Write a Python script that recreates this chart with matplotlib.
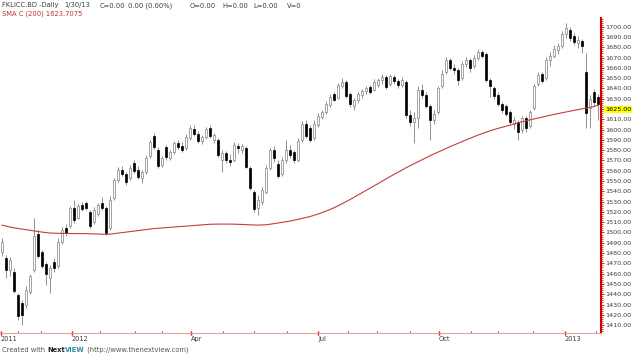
import matplotlib
matplotlib.use("Agg")
import matplotlib.pyplot as plt
import matplotlib.transforms as mtransforms
from matplotlib.ticker import MultipleLocator, FuncFormatter

# daily candles, oldest first
opens = [
    1481.0, 1475.2, 1463.5, 1461.6, 1439.2, 1431.4, 1429.5, 1442.1, 1463.5, 1498.5,
    1481.0, 1469.3, 1455.7, 1471.3, 1467.4, 1490.7, 1504.3, 1506.3, 1523.8, 1514.1,
    1526.7, 1528.6, 1519.9, 1510.2, 1518.0, 1528.6, 1523.8, 1504.3, 1533.5, 1551.0,
    1560.7, 1556.8, 1553.0, 1567.5, 1560.7, 1553.0, 1558.8, 1574.3, 1593.8, 1580.2,
    1565.6, 1583.1, 1572.4, 1578.2, 1587.0, 1584.1, 1582.1, 1591.8, 1600.6, 1595.7,
    1588.9, 1592.8, 1601.6, 1589.9, 1589.9, 1570.4, 1577.3, 1570.4, 1570.4, 1584.1,
    1580.2, 1582.1, 1562.7, 1539.3, 1523.8, 1529.6, 1539.3, 1562.7, 1580.2, 1566.6,
    1556.8, 1570.4, 1580.2, 1578.2, 1570.4, 1589.9, 1605.4, 1601.6, 1591.8, 1604.5,
    1612.3, 1617.1, 1623.9, 1634.6, 1630.7, 1642.4, 1646.3, 1634.6, 1623.0, 1628.8,
    1633.6, 1637.5, 1641.4, 1638.5, 1643.4, 1648.2, 1651.1, 1644.3, 1651.1, 1647.3,
    1643.4, 1646.3, 1614.2, 1607.4, 1611.3, 1638.5, 1633.6, 1623.0, 1609.3, 1617.1,
    1642.4, 1656.0, 1667.7, 1659.9, 1658.0, 1650.2, 1663.8, 1667.7, 1661.8, 1669.6,
    1675.4, 1673.5, 1648.2, 1640.4, 1633.6, 1624.9, 1623.0, 1617.1, 1605.4, 1607.4,
    1599.6, 1611.3, 1603.5, 1621.0, 1644.3, 1654.1, 1650.2, 1667.7, 1671.6, 1677.4,
    1681.3, 1693.0, 1696.8, 1691.0, 1684.2, 1686.1, 1656.0, 1621.0, 1636.6, 1631.7,
]
closes = [
    1490.7, 1463.5, 1473.2, 1443.1, 1418.8, 1419.8, 1444.1, 1457.7, 1496.6, 1477.1,
    1467.4, 1459.6, 1465.4, 1465.4, 1490.7, 1502.4, 1499.5, 1523.8, 1512.1, 1525.7,
    1522.8, 1523.8, 1506.3, 1521.8, 1526.7, 1523.8, 1499.5, 1531.6, 1551.0, 1560.7,
    1556.8, 1549.1, 1562.7, 1559.8, 1553.9, 1558.8, 1572.4, 1588.0, 1583.1, 1564.6,
    1572.4, 1573.4, 1578.2, 1587.0, 1583.1, 1580.2, 1592.8, 1601.6, 1595.7, 1588.9,
    1592.8, 1600.6, 1593.8, 1594.8, 1575.3, 1577.3, 1570.4, 1568.5, 1585.0, 1582.1,
    1584.1, 1563.6, 1543.2, 1522.8, 1531.6, 1541.3, 1562.7, 1580.2, 1572.4, 1554.9,
    1570.4, 1580.2, 1575.3, 1570.4, 1588.9, 1605.4, 1593.8, 1589.9, 1605.4, 1613.2,
    1617.1, 1624.9, 1631.7, 1628.8, 1643.4, 1646.3, 1632.7, 1624.9, 1628.8, 1634.6,
    1637.5, 1640.4, 1636.6, 1646.3, 1648.2, 1651.1, 1641.4, 1652.1, 1647.3, 1643.4,
    1648.2, 1614.2, 1607.4, 1611.3, 1638.5, 1633.6, 1623.0, 1609.3, 1615.2, 1640.4,
    1654.1, 1667.7, 1659.9, 1658.0, 1648.2, 1663.8, 1667.7, 1659.9, 1669.6, 1675.4,
    1671.6, 1648.2, 1642.4, 1632.7, 1624.9, 1619.1, 1615.2, 1607.4, 1609.3, 1597.7,
    1611.3, 1601.6, 1617.1, 1642.4, 1653.1, 1647.3, 1667.7, 1671.6, 1678.4, 1681.3,
    1693.0, 1698.8, 1689.1, 1685.2, 1687.1, 1681.3, 1616.1, 1629.8, 1626.8, 1624.9,
]
highs = [
    1494.6, 1478.1, 1476.1, 1465.4, 1441.2, 1434.3, 1448.0, 1459.6, 1514.1, 1502.4,
    1483.0, 1471.3, 1468.4, 1475.2, 1494.6, 1505.3, 1508.2, 1525.7, 1531.6, 1527.7,
    1529.6, 1530.6, 1521.8, 1524.8, 1528.6, 1534.5, 1525.7, 1535.4, 1553.0, 1563.6,
    1564.6, 1558.8, 1565.6, 1570.4, 1564.6, 1560.7, 1575.3, 1589.9, 1596.7, 1583.1,
    1574.3, 1585.0, 1580.2, 1588.9, 1589.9, 1588.0, 1595.7, 1604.5, 1604.5, 1598.6,
    1594.8, 1602.5, 1604.5, 1596.7, 1591.8, 1580.2, 1579.2, 1576.3, 1588.0, 1587.0,
    1586.0, 1584.1, 1564.6, 1541.3, 1536.4, 1544.2, 1565.6, 1582.1, 1584.1, 1570.4,
    1573.4, 1589.9, 1585.0, 1580.2, 1591.8, 1608.4, 1609.3, 1604.5, 1609.3, 1616.1,
    1619.1, 1627.8, 1634.6, 1636.6, 1645.3, 1650.2, 1648.2, 1636.6, 1630.7, 1636.6,
    1639.5, 1642.4, 1643.4, 1649.2, 1650.2, 1654.1, 1653.1, 1654.1, 1653.1, 1649.2,
    1651.1, 1648.2, 1619.1, 1617.1, 1642.4, 1644.3, 1636.6, 1624.9, 1619.1, 1642.4,
    1658.0, 1670.6, 1669.6, 1663.8, 1659.9, 1666.7, 1670.6, 1669.6, 1672.5, 1678.4,
    1677.4, 1675.4, 1650.2, 1642.4, 1636.6, 1626.8, 1624.9, 1619.1, 1612.3, 1609.3,
    1613.2, 1613.2, 1619.1, 1644.3, 1656.0, 1656.0, 1670.6, 1675.4, 1682.3, 1684.2,
    1695.9, 1703.6, 1699.8, 1693.9, 1691.0, 1688.1, 1674.5, 1633.6, 1639.5, 1634.6,
]
lows = [
    1477.1, 1455.7, 1457.7, 1441.2, 1414.9, 1410.0, 1426.6, 1440.2, 1461.6, 1475.2,
    1465.4, 1448.9, 1441.2, 1461.6, 1465.4, 1488.8, 1496.6, 1504.3, 1509.2, 1513.1,
    1520.9, 1521.8, 1504.3, 1508.2, 1516.0, 1521.8, 1497.5, 1502.4, 1531.6, 1549.1,
    1554.9, 1546.1, 1551.0, 1557.8, 1552.0, 1548.1, 1556.8, 1572.4, 1581.1, 1562.7,
    1563.6, 1570.4, 1570.4, 1576.3, 1581.1, 1578.2, 1580.2, 1589.9, 1593.8, 1587.0,
    1586.0, 1590.9, 1591.8, 1587.0, 1573.4, 1558.8, 1567.5, 1564.6, 1568.5, 1577.3,
    1577.3, 1562.7, 1541.3, 1519.9, 1517.0, 1526.7, 1537.4, 1560.7, 1568.5, 1553.0,
    1554.9, 1567.5, 1572.4, 1567.5, 1568.5, 1588.0, 1591.8, 1588.0, 1589.9, 1602.5,
    1610.3, 1615.2, 1622.0, 1627.8, 1629.8, 1640.4, 1630.7, 1622.0, 1619.1, 1625.9,
    1630.7, 1634.6, 1634.6, 1637.5, 1641.4, 1644.3, 1639.5, 1642.4, 1644.3, 1640.4,
    1641.4, 1611.3, 1603.5, 1587.0, 1601.6, 1630.7, 1621.0, 1589.9, 1605.4, 1615.2,
    1640.4, 1654.1, 1658.0, 1654.1, 1643.4, 1648.2, 1660.9, 1656.0, 1659.9, 1667.7,
    1669.6, 1646.3, 1631.7, 1629.8, 1623.0, 1616.1, 1613.2, 1605.4, 1600.6, 1589.9,
    1596.7, 1597.7, 1601.6, 1619.1, 1642.4, 1645.3, 1648.2, 1661.8, 1669.6, 1673.5,
    1679.3, 1689.1, 1686.1, 1682.3, 1679.3, 1674.5, 1601.6, 1601.6, 1623.0, 1609.3,
]
# 200-day simple moving average of the close
sma200 = [
    1507.1, 1506.3, 1505.3, 1504.5, 1503.9, 1503.2, 1502.6, 1502.1, 1501.4, 1500.8,
    1500.4, 1499.9, 1499.5, 1499.3, 1499.2, 1499.1, 1499.0, 1499.0, 1499.0, 1499.0,
    1499.0, 1498.9, 1498.8, 1498.7, 1498.5, 1498.3, 1498.2, 1498.4, 1498.9, 1499.5,
    1500.0, 1500.5, 1500.9, 1501.4, 1501.9, 1502.4, 1502.9, 1503.4, 1503.8, 1504.1,
    1504.4, 1504.7, 1505.0, 1505.3, 1505.6, 1505.9, 1506.2, 1506.5, 1506.8, 1507.2,
    1507.5, 1507.8, 1508.0, 1508.1, 1508.2, 1508.2, 1508.2, 1508.2, 1508.1, 1508.0,
    1507.8, 1507.6, 1507.4, 1507.3, 1507.2, 1507.3, 1507.5, 1508.0, 1508.6, 1509.2,
    1509.9, 1510.5, 1511.1, 1511.9, 1512.8, 1513.7, 1514.5, 1515.5, 1516.7, 1517.9,
    1519.3, 1520.8, 1522.3, 1524.1, 1525.9, 1527.9, 1529.9, 1532.0, 1534.2, 1536.3,
    1538.6, 1540.8, 1543.0, 1545.3, 1547.5, 1549.8, 1552.1, 1554.3, 1556.4, 1558.6,
    1560.7, 1562.9, 1564.9, 1566.9, 1568.8, 1570.7, 1572.7, 1574.6, 1576.4, 1578.1,
    1579.9, 1581.6, 1583.4, 1585.0, 1586.7, 1588.3, 1590.0, 1591.5, 1593.1, 1594.7,
    1596.1, 1597.6, 1598.9, 1600.1, 1601.2, 1602.2, 1603.3, 1604.4, 1605.4, 1606.5,
    1607.6, 1608.6, 1609.5, 1610.4, 1611.3, 1612.2, 1613.0, 1613.9, 1614.8, 1615.6,
    1616.3, 1617.1, 1617.9, 1618.7, 1619.4, 1620.2, 1621.0, 1621.7, 1622.4, 1623.7,
]

date_labels = ["2011", "2012", "Apr", "Jul", "Oct", "2013"]
date_index = [-0.3, 17.5, 47.25, 79.0, 109.25, 140.75]
minor_index = [4, 9.75, 24.5, 33.25, 40, 55.25, 63, 71.25, 86.5, 93.75, 102,
               117.25, 124, 132.75, 148.5]

header_parts = ["FKLICC.BD -Daily", "1/30/13", "C=0.00", "0.00 (0.00%)",
                "O=0.00", "H=0.00", "L=0.00", "V=0"]
header_x = [2, 64, 100, 128, 190, 222, 253, 287]
sma_label = "SMA C (200) 1623.7075"
last_label = "1625.00"

W, H = 640, 357
RED = "#d40000"
TXT = "#3c3c3c"

fig = plt.figure(figsize=(W / 100, H / 100), dpi=100)
ax = fig.add_axes([0, 24 / H, 601 / W, 315 / H])
ax.set_xlim(-0.5, 149.75)
ax.set_ylim(1402.3, 1708.5)

idx = list(range(len(closes)))
up = [c >= o for o, c in zip(opens, closes)]
bottoms = [min(o, c) for o, c in zip(opens, closes)]
heights = [max(abs(c - o), 0.5) for o, c in zip(opens, closes)]

ax.vlines(idx, lows, highs, color="#808080", lw=0.6, zorder=1)
ax.bar(idx, heights, bottom=bottoms, width=0.6,
       color=["white" if u else "black" for u in up],
       edgecolor=["#808080" if u else "black" for u in up],
       linewidth=0.5, zorder=2)
ax.plot(idx, sma200, color="#c43c3c", lw=0.8, zorder=3)

for s in ("left", "top"):
    ax.spines[s].set_visible(False)
ax.spines["right"].set_color(RED)
ax.spines["right"].set_linewidth(1.5)
ax.spines["bottom"].set_color("#e6a3a3")
ax.spines["bottom"].set_linewidth(0.8)

ax.yaxis.tick_right()
ax.yaxis.set_major_locator(MultipleLocator(10))
ax.yaxis.set_minor_locator(MultipleLocator(2))
ax.yaxis.set_major_formatter(FuncFormatter(lambda v, p: "" if abs(v - 1620) < 0.1 else f"{v:.2f}"))
ax.tick_params(axis="y", which="major", length=2, width=0.6, color=RED,
               labelsize=4.6, labelcolor=TXT, pad=0.8)
ax.tick_params(axis="y", which="minor", length=1.2, width=0.5, color=RED)

ax.set_xticks(date_index, date_labels)
ax.set_xticks(minor_index, minor=True)
for lab in ax.get_xticklabels():
    lab.set_horizontalalignment("left")
ax.tick_params(axis="x", which="major", direction="inout", length=3, width=1,
               color=RED, labelsize=4.8, labelcolor=TXT, pad=1)
ax.tick_params(axis="x", which="minor", direction="in", length=1.5, width=0.8,
               color="#666666")

trans = mtransforms.blended_transform_factory(ax.transAxes, ax.transData)
ax.annotate(last_label, xy=(1, 1620), xycoords=trans, xytext=(2.8, 0),
            textcoords="offset points", ha="left", va="center", fontsize=4.6,
            color="black", annotation_clip=False, zorder=10,
            bbox=dict(boxstyle="square,pad=0.15", fc="#ffff00", ec="none"))

for s, x in zip(header_parts, header_x):
    fig.text(x / W, 1 - 5.5 / H, s, ha="left", va="center", fontsize=4.9, color=TXT)
fig.text(2 / W, 1 - 14 / H, sma_label, ha="left", va="center", fontsize=4.9, color="#c03030")

# footer, drawn piece by piece so the bold brand sits inline
footer = [("Created with ", "normal", "#555555"), ("Next", "bold", "#222222"),
          ("VIEW", "bold", "#2a8c9c"), (" (http://www.thenextview.com)", "normal", "#555555")]
fig.canvas.draw()
r = fig.canvas.get_renderer()
x = 2
for s, weight, color in footer:
    t = fig.text(x / W, 1 - 350 / H, s, ha="left", va="center", fontsize=4.9,
                 fontweight=weight, color=color)
    x = t.get_window_extent(r).x1

fig.savefig("out.png", dpi=100, facecolor="white")
